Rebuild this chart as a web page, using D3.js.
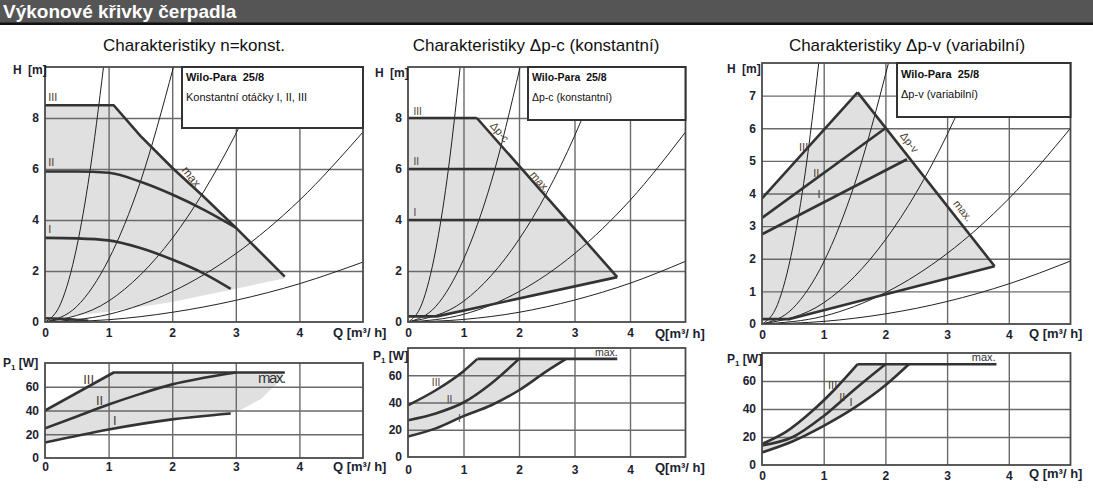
<!DOCTYPE html>
<html>
<head>
<meta charset="utf-8">
<script src="https://cdn.jsdelivr.net/npm/d3@7"></script>
<style>
  body { margin: 0; background: #fff; }
  text { font-family: "Liberation Sans", Arial, sans-serif; }
</style>
</head>
<body>
<script>
const wdth = 1093;
const hght = 491;

// axis ticks
const qTicks = [0, 1, 2, 3, 4];
const headTicksA = [0, 2, 4, 6, 8];
const headTicksC = [0, 1, 2, 3, 4, 5, 6, 7];
const powerTicks = [0, 20, 40, 60];

// panel 1 - n = konst. (Q [m3/h], H [m])
const nHeadIII = [[0, 8.5], [1.08, 8.5], [1.5, 7.3], [2, 6.05], [2.5, 4.9], [3, 3.7], [3.77, 1.78]];
const nHeadII = [[0, 5.9], [0.5, 5.9], [1, 5.85], [1.5, 5.5], [2, 5.0], [2.5, 4.4], [3, 3.7]];
const nHeadI = [[0, 3.3], [0.5, 3.28], [1, 3.2], [1.5, 2.9], [2, 2.45], [2.5, 1.9], [2.92, 1.3]];
const nHeadMin = [[0, 0.15], [0.35, 0.12], [0.68, 0.05]];
const nHeadLow = [[3.77, 1.72], [3, 1.3], [2, 0.78], [1, 0.4], [0, 0.12]];
// panel 1 - P1 [W]
const nPowIII = [[0, 40], [1.08, 72], [3.77, 72]];
const nPowII = [[0, 25], [0.5, 35], [1, 45], [1.5, 54], [2, 62], [2.5, 67.5], [3, 72]];
const nPowI = [[0, 13], [1, 24], [2, 32.5], [2.92, 37.5]];
const nPowEdge = [[2.92, 37.5], [3.1, 41], [3.4, 50], [3.65, 63], [3.77, 72]];
// panel 1 system curves
const nSys = [
  [[0, 0], [0.25, 0.74], [0.5, 2.95], [0.7, 5.8], [0.92, 10]],
  [[0, 0], [0.5, 0.61], [1, 2.45], [1.5, 5.5], [2.02, 10]],
  [[0, 0], [1, 0.82], [2, 3.28], [3, 7.38], [3.5, 10]],
  [[0, 0], [1, 0.3], [2, 1.19], [3, 2.68], [4, 4.77], [5, 7.45]],
  [[0, 0], [1, 0.09], [2, 0.38], [3, 0.85], [4, 1.5], [5, 2.35]]
];

// panel 2 - dp-c
const dpcHeadIII = [[0, 8], [1.24, 8]];
const dpcHeadII = [[0, 6], [2, 6]];
const dpcHeadI = [[0, 4], [2.83, 4]];
const dpcHeadMax = [[1.24, 8], [3.77, 1.76]];
const dpcHeadLow = [[0, 0.22], [0.52, 0.22], [3.77, 1.76]];
const dpcPowIII = [[0, 38], [0.5, 49], [1, 63], [1.25, 72]];
const dpcPowII = [[0, 27], [0.5, 32], [1, 40], [1.5, 54], [2, 72]];
const dpcPowI = [[0, 15], [0.5, 21], [1, 30], [1.5, 38], [2, 49], [2.5, 63], [2.85, 72]];
const dpcPowMax = [[1.25, 72], [3.77, 72]];
const dpcSys = [
  [[0, 0], [0.25, 0.71], [0.5, 2.83], [0.7, 5.54], [0.94, 10]],
  [[0, 0], [0.5, 0.61], [1, 2.45], [1.5, 5.5], [2.02, 10]],
  [[0, 0], [1, 0.81], [2, 3.24], [3, 7.29], [3.51, 10]],
  [[0, 0], [1, 0.3], [2, 1.19], [3, 2.68], [4, 4.77], [5, 7.45]],
  [[0, 0], [1, 0.1], [2, 0.38], [3, 0.86], [4, 1.52], [5, 2.38]]
];

// panel 3 - dp-v
const dpvHeadIII = [[0, 3.85], [1.55, 7.1]];
const dpvHeadII = [[0, 3.25], [2, 6]];
const dpvHeadI = [[0, 2.75], [2.35, 5.05]];
const dpvHeadMax = [[1.55, 7.1], [3.77, 1.77]];
const dpvHeadLow = [[0, 0.15], [0.45, 0.15], [3.77, 1.77]];
const dpvPowIII = [[0, 15], [0.4, 24], [0.8, 38], [1.2, 55], [1.55, 72]];
const dpvPowII = [[0, 14], [0.5, 20], [1, 35], [1.5, 54], [2, 72]];
const dpvPowI = [[0, 9], [0.5, 17], [1, 28], [1.5, 41], [2, 57], [2.38, 72]];
const dpvPowMax = [[1.55, 72], [3.8, 72]];
const dpvSys = [
  [[0, 0], [0.25, 0.59], [0.5, 2.36], [0.7, 4.63], [0.92, 8]],
  [[0, 0], [0.5, 0.48], [1, 1.9], [1.5, 4.28], [2.05, 8]],
  [[0, 0], [1, 0.65], [2, 2.58], [3, 5.8], [3.52, 8]],
  [[0, 0], [1, 0.24], [2, 0.96], [3, 2.16], [4, 3.84], [5, 6.0]],
  [[0, 0], [1, 0.08], [2, 0.31], [3, 0.69], [4, 1.23], [5, 1.93]]
];

const shadeColor = "#e0e0e0";
const lineColor = "#333";
const gridColor = "#6a6a6a";
const labelColor = "#4a3a30";
let clipCount = 0;

const svg = d3.select("body").append("svg")
  .attr("width", wdth).attr("height", hght);

// header bar
svg.append("rect").attr("x", 0).attr("y", 0).attr("width", wdth).attr("height", 23).attr("fill", "#555");
svg.append("rect").attr("x", 0).attr("y", 22.5).attr("width", wdth).attr("height", 2.5).attr("fill", "#111");
svg.append("text").attr("x", 3).attr("y", 18).text("Výkonové křivky čerpadla")
  .attr("fill", "#fff").attr("font-size", "19px").attr("font-weight", "bold");

const titles = [
  { t: "Charakteristiky n=konst.", x: 194 },
  { t: "Charakteristiky Δp-c (konstantní)", x: 536 },
  { t: "Charakteristiky Δp-v (variabilní)", x: 907 }
];
svg.selectAll(".ptitle").data(titles).enter().append("text")
  .attr("class", "ptitle").attr("x", d => d.x).attr("y", 51)
  .attr("text-anchor", "middle").attr("font-size", "17px").attr("fill", "#111")
  .text(d => d.t);

function panel(cfg) {
  const x = d3.scaleLinear().domain([0, 5]).range([cfg.x0, cfg.x1]);
  const y = d3.scaleLinear().domain([0, cfg.ymax]).range([cfg.y0, cfg.y1]);
  const g = svg.append("g");
  const id = "clip" + (clipCount++);
  svg.append("clipPath").attr("id", id).append("rect")
    .attr("x", cfg.x0).attr("y", cfg.y1).attr("width", cfg.x1 - cfg.x0).attr("height", cfg.y0 - cfg.y1);
  const inner = g.append("g").attr("clip-path", "url(#" + id + ")");

  if (cfg.shade) {
    inner.append("path")
      .attr("d", d3.line().x(d => x(d[0])).y(d => y(d[1])).curve(d3.curveLinear)(cfg.shade))
      .attr("fill", shadeColor).attr("stroke", "none");
  }

  // grid
  inner.append("g").attr("transform", "translate(0," + cfg.y0 + ")")
    .call(d3.axisBottom(x).tickValues([1, 2, 3, 4]).tickSize(-(cfg.y0 - cfg.y1)).tickFormat(""))
    .call(a => a.select(".domain").remove())
    .call(a => a.selectAll("line").attr("stroke", gridColor).attr("stroke-width", 1.4));
  inner.append("g").attr("transform", "translate(" + cfg.x0 + ",0)")
    .call(d3.axisLeft(y).tickValues(cfg.yTicks.filter(v => v > 0)).tickSize(-(cfg.x1 - cfg.x0)).tickFormat(""))
    .call(a => a.select(".domain").remove())
    .call(a => a.selectAll("line").attr("stroke", gridColor).attr("stroke-width", 1.4));

  (cfg.sys || []).forEach(c => {
    inner.append("path")
      .attr("d", d3.line().x(d => x(d[0])).y(d => y(d[1])).curve(d3.curveMonotoneX)(c))
      .attr("fill", "none").attr("stroke", "#222").attr("stroke-width", 1);
  });

  cfg.lines.forEach(c => {
    inner.append("path")
      .attr("d", d3.line().x(d => x(d[0])).y(d => y(d[1])).curve(c.smooth ? d3.curveMonotoneX : d3.curveLinear)(c.pts))
      .attr("fill", "none").attr("stroke", lineColor).attr("stroke-width", 2.6)
      .attr("stroke-linejoin", "round");
  });

  // frame
  g.append("rect").attr("x", cfg.x0).attr("y", cfg.y1)
    .attr("width", cfg.x1 - cfg.x0).attr("height", cfg.y0 - cfg.y1)
    .attr("fill", "none").attr("stroke", "#4a4a4a").attr("stroke-width", 1.8);

  // tick labels
  g.append("g").attr("transform", "translate(0," + cfg.y0 + ")")
    .call(d3.axisBottom(x).tickValues(qTicks).tickSize(0).tickPadding(cfg.xPad || 6).tickFormat(d3.format("d")))
    .call(a => a.select(".domain").remove())
    .call(a => a.selectAll("text").attr("font-size", "12px").attr("font-weight", "bold").attr("fill", "#1c2230")
      .attr("font-family", "Liberation Sans, Arial, sans-serif"));
  g.append("g").attr("transform", "translate(" + cfg.x0 + ",0)")
    .call(d3.axisLeft(y).tickValues(cfg.yTicks).tickSize(0).tickPadding(6).tickFormat(d3.format("d")))
    .call(a => a.select(".domain").remove())
    .call(a => a.selectAll("text").attr("font-size", "12px").attr("font-weight", "bold").attr("fill", "#1c2230")
      .attr("font-family", "Liberation Sans, Arial, sans-serif"));

  // legend box
  if (cfg.box) {
    const b = cfg.box;
    g.append("rect").attr("x", b.x).attr("y", cfg.y1).attr("width", cfg.x1 - b.x).attr("height", b.h)
      .attr("fill", "#fff").attr("stroke", "#333").attr("stroke-width", 2);
    g.append("text").attr("x", b.x + 4).attr("y", cfg.y1 + b.t1).attr("font-size", b.fs + "px")
      .attr("font-weight", "bold").attr("fill", "#111").text("Wilo-Para  25/8").attr("xml:space", "preserve");
    g.append("text").attr("x", b.x + 4).attr("y", cfg.y1 + b.t2).attr("font-size", b.fs + "px")
      .attr("fill", "#111").text(b.sub);
  }

  // curve labels
  (cfg.labels || []).forEach(l => {
    const t = g.append("text").attr("font-size", (l.fs || 11) + "px").attr("fill", l.color || labelColor)
      .attr("text-anchor", l.anchor || "start").text(l.t);
    if (l.rot) t.attr("transform", "translate(" + x(l.q) + "," + y(l.v) + ") rotate(" + l.rot + ")");
    else t.attr("x", x(l.q)).attr("y", y(l.v));
    if (l.ls) t.attr("letter-spacing", l.ls);
  });

  // axis titles
  const yt = g.append("text").attr("x", cfg.yTitle[0]).attr("y", cfg.yTitle[1])
    .attr("font-size", "12px").attr("font-weight", "bold").attr("fill", "#1c2230");
  if (cfg.power) {
    yt.append("tspan").text("P");
    yt.append("tspan").text("1").attr("font-size", "8px").attr("dy", 3);
    yt.append("tspan").text(" [W]").attr("dy", -3);
  } else {
    yt.text("H [m]").attr("word-spacing", 3);
  }
  g.append("text").attr("x", cfg.qTitle[0]).attr("y", cfg.qTitle[1])
    .attr("font-size", "13px").attr("font-weight", "bold").attr("fill", "#1c2230")
    .attr("xml:space", "preserve").text(cfg.qText);

  return { x, y };
}

// panel 1 - head
panel({
  x0: 45, x1: 363, y0: 322, y1: 67, ymax: 10, yTicks: headTicksA,
  shade: nHeadIII.concat(nHeadLow),
  sys: nSys,
  lines: [
    { pts: nHeadIII }, { pts: nHeadII, smooth: true }, { pts: nHeadI, smooth: true }, { pts: nHeadMin, smooth: true }
  ],
  box: { x: 182, h: 61, t1: 14, t2: 34, fs: 11, sub: "Konstantní otáčky I, II, III" },
  labels: [
    { t: "III", q: 0.05, v: 8.65 }, { t: "II", q: 0.05, v: 6.1 }, { t: "I", q: 0.05, v: 3.5 },
    { t: "max", q: 2.25, v: 5.6, rot: 52, fs: 12, anchor: "middle" }
  ],
  yTitle: [13, 74], qTitle: [333, 337], qText: "Q [m³/ h]"
});

// panel 1 - power
panel({
  x0: 45, x1: 363, y0: 458, y1: 363, ymax: 80, yTicks: powerTicks, power: true, xPad: 4,
  shade: nPowIII.concat(nPowEdge.slice().reverse(), nPowI.slice().reverse()),
  lines: [{ pts: nPowIII }, { pts: nPowII, smooth: true }, { pts: nPowI, smooth: true }],
  labels: [
    { t: "III", q: 0.6, v: 62, fs: 13 }, { t: "II", q: 0.8, v: 45, fs: 13 }, { t: "I", q: 1.07, v: 28, fs: 13 },
    { t: "max.", q: 3.35, v: 63, fs: 15, ls: -1.5, color: "#333" }
  ],
  yTitle: [3, 367], qTitle: [333, 471], qText: "Q [m³/ h]"
});

// panel 2 - head
panel({
  x0: 408, x1: 685.5, y0: 322, y1: 67, ymax: 10, yTicks: headTicksA,
  shade: dpcHeadIII.concat(dpcHeadMax.slice(1), dpcHeadLow.slice().reverse().slice(1)),
  sys: dpcSys,
  lines: [
    { pts: dpcHeadIII }, { pts: dpcHeadII }, { pts: dpcHeadI }, { pts: dpcHeadMax }, { pts: dpcHeadLow }
  ],
  box: { x: 528, h: 53, t1: 14, t2: 34, fs: 10.5, sub: "Δp-c (konstantní)" },
  labels: [
    { t: "III", q: 0.1, v: 8.1, fs: 10 }, { t: "II", q: 0.1, v: 6.15, fs: 10 }, { t: "I", q: 0.1, v: 4.15, fs: 10 },
    { t: "Δp-c", q: 1.6, v: 7.35, rot: 49, fs: 11, anchor: "middle" },
    { t: "max.", q: 2.33, v: 5.4, rot: 49, fs: 11, anchor: "middle" }
  ],
  yTitle: [375, 77], qTitle: [655, 338], qText: "Q[m³/ h]"
});

// panel 2 - power
panel({
  x0: 408, x1: 685.5, y0: 457, y1: 348, ymax: 80, yTicks: powerTicks, power: true, xPad: 8,
  shade: dpcPowIII.concat(dpcPowI.slice().reverse()),
  lines: [{ pts: dpcPowIII, smooth: true }, { pts: dpcPowII, smooth: true }, { pts: dpcPowI, smooth: true }, { pts: dpcPowMax }],
  labels: [
    { t: "III", q: 0.43, v: 52, fs: 10 }, { t: "II", q: 0.7, v: 40, fs: 10 }, { t: "I", q: 0.9, v: 26, fs: 10 },
    { t: "max.", q: 3.37, v: 74, fs: 10.5, color: "#333" }
  ],
  yTitle: [373, 360], qTitle: [655, 472], qText: "Q[m³/ h]"
});

// panel 3 - head
panel({
  x0: 762, x1: 1070.5, y0: 324, y1: 63, ymax: 8, yTicks: headTicksC,
  shade: dpvHeadIII.concat(dpvHeadMax.slice(1), dpvHeadLow.slice().reverse().slice(1)),
  sys: dpvSys,
  lines: [
    { pts: dpvHeadIII }, { pts: dpvHeadII }, { pts: dpvHeadI }, { pts: dpvHeadMax }, { pts: dpvHeadLow }
  ],
  box: { x: 897, h: 54, t1: 15, t2: 35, fs: 11, sub: "Δp-v (variabilní)" },
  labels: [
    { t: "III", q: 0.6, v: 5.3, fs: 11 }, { t: "II", q: 0.83, v: 4.5, fs: 11 }, { t: "I", q: 0.9, v: 3.85, fs: 11 },
    { t: "Δp-v", q: 2.34, v: 5.5, rot: 52, fs: 11, anchor: "middle" },
    { t: "max.", q: 3.21, v: 3.4, rot: 52, fs: 11, anchor: "middle" }
  ],
  yTitle: [727, 73], qTitle: [1029, 338], qText: "Q [m³/ h]"
});

// panel 3 - power
panel({
  x0: 762, x1: 1070.5, y0: 465, y1: 353, ymax: 80, yTicks: powerTicks, power: true, xPad: 6,
  shade: dpvPowIII.concat(dpvPowI.slice().reverse()),
  lines: [{ pts: dpvPowIII, smooth: true }, { pts: dpvPowII, smooth: true }, { pts: dpvPowI, smooth: true }, { pts: dpvPowMax }],
  labels: [
    { t: "III", q: 1.07, v: 54, fs: 11 }, { t: "II", q: 1.25, v: 46, fs: 11 }, { t: "I", q: 1.42, v: 42, fs: 11 },
    { t: "max.", q: 3.4, v: 74, fs: 11, color: "#333" }
  ],
  yTitle: [727, 363], qTitle: [1029, 478], qText: "Q [m³/ h]"
});
</script>
</body>
</html>
